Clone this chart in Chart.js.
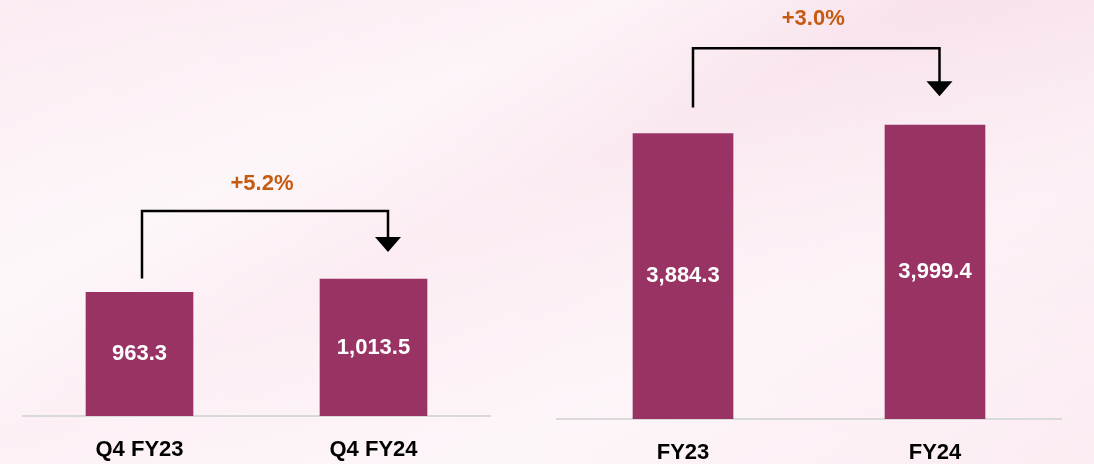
<!DOCTYPE html>
<html>
<head>
<meta charset="utf-8">
<script src="https://cdn.jsdelivr.net/npm/chart.js@4.4.1/dist/chart.umd.min.js"></script>
<style>
  html, body { margin: 0; padding: 0; }
  body {
    width: 1094px; height: 464px; overflow: hidden; position: relative;
    background:
      linear-gradient(155deg, rgba(255,255,255,0) 0%, rgba(255,255,255,0.55) 30%, rgba(255,255,255,0) 45%, rgba(255,255,255,0.45) 70%, rgba(255,255,255,0) 100%),
      linear-gradient(200deg, #f8e0eb 0%, #fbebf2 45%, #fcf1f6 100%);
  }
  .panel { position: absolute; top: 0; width: 547px; height: 487px; }
</style>
</head>
<body>
<div class="panel" style="left:0"><canvas id="quarterChart"></canvas></div>
<div class="panel" style="left:547px"><canvas id="yearChart"></canvas></div>
<script>
// data
const quarterLabels = ['Q4 FY23', 'Q4 FY24'];
const quarterValues = [963.3, 1013.5];
const quarterGrowth = '+5.2%';

const yearLabels = ['FY23', 'FY24'];
const yearValues = [3884.3, 3999.4];
const yearGrowth = '+3.0%';

const BAR_COLOR = '#993363';
const FONT = '"Liberation Sans", Arial, sans-serif';

function fmt(v){
  return v.toLocaleString('en-US', {minimumFractionDigits: 1, maximumFractionDigits: 1});
}

// white value text in the middle of each (visible) bar
const valueLabels = {
  id: 'valueLabels',
  afterDatasetsDraw(chart){
    const ctx = chart.ctx;
    const ds = chart.data.datasets[0];
    const bottom = chart.chartArea.bottom;
    ctx.save();
    ctx.fillStyle = '#ffffff';
    ctx.font = 'bold 22px ' + FONT;
    ctx.textAlign = 'center';
    ctx.textBaseline = 'middle';
    chart.getDatasetMeta(0).data.forEach((bar, i) => {
      const base = Math.min(bar.base, bottom);
      ctx.fillText(fmt(ds.data[i]), bar.x, (bar.y + base) / 2);
    });
    ctx.restore();
  }
};

// elbow arrow from first bar to second bar with growth text
const growthArrow = {
  id: 'growthArrow',
  afterDatasetsDraw(chart, args, opts){
    const bars = chart.getDatasetMeta(0).data;
    if (bars.length < 2) return;
    const a = bars[0], b = bars[1];
    const ctx = chart.ctx;
    const x0 = a.x + opts.startDx, x1 = b.x + opts.endDx;
    const y0 = a.y - opts.startGap;
    const yTop = Math.min(a.y, b.y) - opts.rise;
    const tip = b.y - opts.endGap;
    ctx.save();
    ctx.strokeStyle = '#000';
    ctx.lineWidth = 2.5;
    ctx.beginPath();
    ctx.moveTo(x0, y0);
    ctx.lineTo(x0, yTop);
    ctx.lineTo(x1, yTop);
    ctx.lineTo(x1, tip - 14);
    ctx.stroke();
    ctx.fillStyle = '#000';
    ctx.beginPath();
    ctx.moveTo(x1 - 13, tip - 15);
    ctx.lineTo(x1 + 13, tip - 15);
    ctx.lineTo(x1, tip);
    ctx.closePath();
    ctx.fill();
    ctx.fillStyle = '#C55A11';
    ctx.font = 'bold 22px ' + FONT;
    ctx.textAlign = 'center';
    ctx.textBaseline = 'middle';
    ctx.fillText(opts.text, (x0 + x1) / 2 - 3, yTop - opts.textGap);
    ctx.restore();
  }
};

function makeChart(id, labels, values, cfg){
  const ctx = document.getElementById(id).getContext('2d');
  return new Chart(ctx, {
    type: 'bar',
    data: {
      labels,
      datasets: [{
        data: values,
        backgroundColor: BAR_COLOR,
        borderWidth: 0,
        barThickness: cfg.barWidth
      }]
    },
    options: {
      responsive: true,
      maintainAspectRatio: false,
      animation: false,
      layout: { padding: cfg.padding },
      plugins: {
        legend: { display: false },
        tooltip: { enabled: false },
        growthArrow: cfg.arrow
      },
      scales: {
        x: {
          grid: { display: false, drawTicks: false },
          border: { display: true, color: '#d9d9d9', width: 2 },
          ticks: {
            color: '#000',
            padding: 20.5,
            maxRotation: 0,
            autoSkip: false,
            font: { family: FONT, size: 22, weight: 'bold' }
          }
        },
        y: { display: false, min: cfg.yMin, max: cfg.yMax }
      }
    },
    plugins: [valueLabels, growthArrow]
  });
}

makeChart('quarterChart', quarterLabels, quarterValues, {
  barWidth: 107,
  yMin: 500, yMax: 2060,
  padding: { left: 22.5, right: 56.5, top: 0, bottom: 3.6 },
  arrow: { text: quarterGrowth, startDx: 2.5, endDx: 14.5, startGap: 14, rise: 68, endGap: 27, textGap: 27 }
});

makeChart('yearChart', yearLabels, yearValues, {
  barWidth: 100,
  yMin: 0, yMax: 5703,
  padding: { left: 10, right: 33, top: 0, bottom: 0.6 },
  arrow: { text: yearGrowth, startDx: 10, endDx: 4.5, startGap: 26, rise: 77, endGap: 29, textGap: 29 }
});
</script>
</body>
</html>
